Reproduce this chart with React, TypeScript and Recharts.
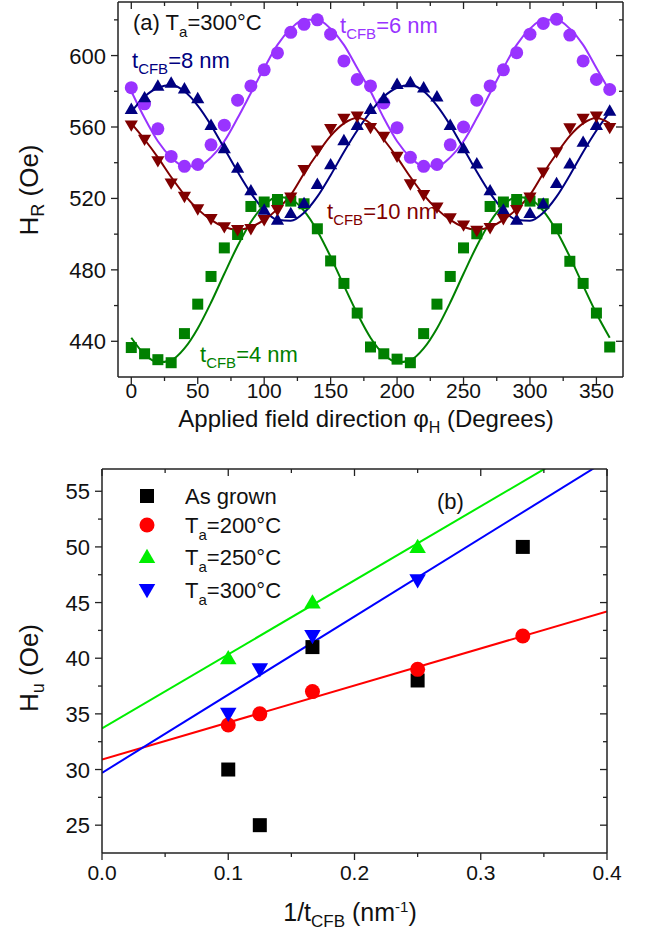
import React from 'react';
import { ComposedChart, Line, XAxis, YAxis } from 'recharts';

// ---- panel (a): resonance field vs applied field direction, Ta = 300 C ----
const ANGLES = [
  0, 10, 20, 30, 40, 50, 60, 70, 80, 90, 100, 110, 120, 130, 140, 150, 160, 170, 180,
  190, 200, 210, 220, 230, 240, 250, 260, 270, 280, 290, 300, 310, 320, 330, 340, 350, 360,
];

const HR_4NM = [
  436.5, 433, 429.7, 428, 444.3, 460.8, 476.3, 492.3, 499.8, 515.5, 518, 519.4, 518.5, 517, 503, 485, 472.4, 455.8, 436.8,
  433, 430, 428, 444.3, 460.8, 476.3, 492.3, 500.2, 515.5, 518, 519.4, 518.5, 517, 503, 484.8, 472.4, 455.8, 436.8,
];
const HR_6NM = [
  582, 573, 559, 543.5, 538, 539, 550, 561, 575, 583, 592, 601.5, 613, 617.5, 620, 612, 597, 586.6, 583,
  573.5, 559.6, 543, 538, 539, 550, 560, 575, 583, 592, 601.6, 612, 618, 620.4, 611.5, 597, 586.6, 581,
];
const HR_8NM = [
  570, 576.5, 583, 584.7, 581.5, 576, 561, 548, 537, 524.4, 513.6, 508, 511.7, 517.3, 528, 539, 552.5, 561, 570,
  576, 584, 585, 582, 577, 561, 548, 539.5, 524.4, 513.6, 508, 511.7, 517, 528.5, 539.4, 551.6, 561, 569,
];
const HR_10NM = [
  561, 553, 541, 528.5, 521, 514, 508.6, 504, 502.4, 503, 508, 513.6, 520.7, 536, 547, 559, 564.7, 566, 559.6,
  554.7, 543.5, 528, 522, 515, 509, 505, 502, 503.5, 508.6, 513.6, 520.7, 534.7, 546, 559.4, 564.7, 566, 559.6,
];

// fitted curves, every 10 degrees
const FIT_4NM = [
  442, 432.7, 428.2, 429.4, 436, 447.2, 461.7, 477.8, 493.4, 506.8, 516.3, 520.8, 519.6, 513, 501.8, 487.3, 471.2, 455.6, 442,
  432.7, 428.2, 429.4, 436, 447.2, 461.7, 477.8, 493.4, 506.8, 516.3, 520.8, 519.6, 513, 501.8, 487.3, 471.2, 455.6, 442,
];
const FIT_6NM = [
  580, 565, 552, 543, 538, 538, 543, 552, 565, 579, 593, 606, 615, 620, 620, 615, 606, 593, 580,
  565, 552, 543, 538, 538, 543, 552, 565, 579, 593, 606, 615, 620, 620, 615, 606, 593, 580,
];
const FIT_8NM = [
  568.5, 577, 582, 583.5, 580, 572, 561, 548, 535, 523, 513.5, 508, 507.5, 512, 521, 533, 546, 558, 568.5,
  577, 582, 583.5, 580, 572, 561, 548, 535, 523, 513.5, 508, 507.5, 512, 521, 533, 546, 558, 568.5,
];
const FIT_10NM = [
  562, 553, 543, 532, 522, 514, 508, 504, 502.5, 504, 508, 514, 522, 534, 545, 555, 562, 565, 562,
  553, 543, 532, 522, 514, 508, 504, 502.5, 504, 508, 514, 522, 534, 545, 555, 562, 565, 562,
];

const TOP_X_TICKS = [0, 25, 50, 75, 100, 125, 150, 175, 200, 225, 250, 275, 300, 325, 350];
const TOP_X_MAJOR = [0, 50, 100, 150, 200, 250, 300, 350];
const TOP_Y_TICKS = [440, 460, 480, 500, 520, 540, 560, 580, 600, 620];
const TOP_Y_MAJOR = [440, 480, 520, 560, 600];

// ---- panel (b): Hu vs 1/t ----
const INV_T = [0, 0.1, 0.125, 0.1667, 0.25, 0.3333, 0.4];
const AS_GROWN = [null, 30, 25, 41, 38, 50, null];
const TA_200 = [null, 34, 35, 37, 39, 42, null];
const TA_250 = [null, 40, null, 45, 50, null, null];
const TA_300 = [null, 35, 39, 42, 47, null, null];
const FIT_200 = [30.9, null, null, null, null, null, 44.2];
const FIT_250 = [33.7, null, null, null, null, null, 60.3];
const FIT_300 = [29.7, null, null, null, null, null, 57.8];

const BOT_X_TICKS = [0, 0.05, 0.1, 0.15, 0.2, 0.25, 0.3, 0.35, 0.4];
const BOT_X_MAJOR = [0, 0.1, 0.2, 0.3, 0.4];
const BOT_Y_TICKS = [25, 27.5, 30, 32.5, 35, 37.5, 40, 42.5, 45, 47.5, 50, 52.5, 55];
const BOT_Y_MAJOR = [25, 30, 35, 40, 45, 50, 55];

const FONT = '"Liberation Sans", Arial, Helvetica, sans-serif';
const AXIS = { stroke: '#222', strokeWidth: 1.5 };

const C4 = '#008000';
const C6 = '#9933ff';
const C8 = '#000080';
const C10 = '#800000';

const topData = ANGLES.map((a, i) => ({
  angle: a,
  h4: HR_4NM[i],
  h6: HR_6NM[i],
  h8: HR_8NM[i],
  h10: HR_10NM[i],
  f4: FIT_4NM[i],
  f6: FIT_6NM[i],
  f8: FIT_8NM[i],
  f10: FIT_10NM[i],
}));

const botData = INV_T.map((x, i) => ({
  x,
  asg: AS_GROWN[i],
  t200: TA_200[i],
  t250: TA_250[i],
  t300: TA_300[i],
  f200: FIT_200[i],
  f250: FIT_250[i],
  f300: FIT_300[i],
}));

type Shape = 'square' | 'circle' | 'up' | 'down';

function Marker({ cx, cy, shape, size, color }: { cx: number; cy: number; shape: Shape; size: number; color: string }) {
  const h = size / 2;
  if (shape === 'square') return <rect x={cx - h} y={cy - h} width={size} height={size} fill={color} />;
  if (shape === 'circle') return <circle cx={cx} cy={cy} r={h} fill={color} />;
  if (shape === 'up')
    return <polygon points={`${cx},${cy - h * 1.1} ${cx + h * 1.1},${cy + h * 0.8} ${cx - h * 1.1},${cy + h * 0.8}`} fill={color} />;
  return <polygon points={`${cx},${cy + h * 1.1} ${cx + h * 1.1},${cy - h * 0.8} ${cx - h * 1.1},${cy - h * 0.8}`} fill={color} />;
}

const dotFn = (shape: Shape, size: number, color: string) => (p: any) => {
  if (p.cx == null || p.cy == null || p.value == null || !isFinite(p.cy)) return <g key={`e-${p.index}`} />;
  return (
    <g key={`d-${p.index}`}>
      <Marker cx={p.cx} cy={p.cy} shape={shape} size={size} color={color} />
    </g>
  );
};

type Side = 'bottom' | 'top' | 'left' | 'right';

function axisTick(side: Side, majors: number[], fmt: ((v: number) => string) | null, gap: number) {
  return (props: any) => {
    const { x, y, payload } = props;
    const v = Number(payload.value);
    const major = majors.some((m) => Math.abs(m - v) < 1e-6);
    const len = major ? 7 : 4;
    let line;
    if (side === 'bottom' || side === 'top') line = <line x1={x} y1={y} x2={x} y2={y + len} stroke="#222" strokeWidth={1.3} />;
    else line = <line x1={x} y1={y} x2={x - len} y2={y} stroke="#222" strokeWidth={1.3} />;
    let label = null;
    if (fmt && major) {
      if (side === 'bottom')
        label = (
          <text x={x} y={y + gap} textAnchor="middle" fontSize={21} fontFamily={FONT} fill="#111">
            {fmt(v)}
          </text>
        );
      if (side === 'left')
        label = (
          <text x={x - gap} y={y + 8} textAnchor="end" fontSize={22} fontFamily={FONT} fill="#111">
            {fmt(v)}
          </text>
        );
    }
    return (
      <g>
        {line}
        {label}
      </g>
    );
  };
}

function TopPanel() {
  return (
    <ComposedChart width={647} height={430} data={topData} margin={{ top: 0, right: 0, bottom: 0, left: 0 }}>
      <XAxis
        dataKey="angle"
        type="number"
        domain={[-10, 370]}
        allowDataOverflow
        ticks={TOP_X_TICKS}
        interval={0}
        height={53}
        tickSize={0}
        tickMargin={0}
        tickLine={false}
        axisLine={AXIS}
        tick={axisTick('bottom', TOP_X_MAJOR, (v) => String(v), 21)}
      />
      <XAxis
        xAxisId="top"
        dataKey="angle"
        orientation="top"
        type="number"
        domain={[-10, 370]}
        allowDataOverflow
        ticks={TOP_X_TICKS}
        interval={0}
        height={2}
        tickSize={0}
        tickMargin={0}
        tickLine={false}
        axisLine={AXIS}
        tick={axisTick('top', TOP_X_MAJOR, null, 0)}
      />
      <YAxis
        type="number"
        domain={[420, 630]}
        allowDataOverflow
        ticks={TOP_Y_TICKS}
        interval={0}
        width={118}
        tickSize={0}
        tickMargin={0}
        tickLine={false}
        axisLine={AXIS}
        tick={axisTick('left', TOP_Y_MAJOR, (v) => String(v), 12)}
      />
      <YAxis
        yAxisId="right"
        orientation="right"
        type="number"
        domain={[420, 630]}
        allowDataOverflow
        ticks={TOP_Y_TICKS}
        interval={0}
        width={24}
        tickSize={0}
        tickMargin={0}
        tickLine={false}
        axisLine={AXIS}
        tick={axisTick('right', TOP_Y_MAJOR, null, 0)}
      />
      {/* invisible series that binds the mirrored frame axes */}
      <Line xAxisId="top" yAxisId="right" dataKey="f6" stroke="none" dot={false} activeDot={false} isAnimationActive={false} />
      <Line dataKey="f4" type="monotone" stroke={C4} strokeWidth={2} dot={false} activeDot={false} isAnimationActive={false} />
      <Line dataKey="f6" type="monotone" stroke={C6} strokeWidth={2} dot={false} activeDot={false} isAnimationActive={false} />
      <Line dataKey="f8" type="monotone" stroke={C8} strokeWidth={2} dot={false} activeDot={false} isAnimationActive={false} />
      <Line dataKey="f10" type="monotone" stroke={C10} strokeWidth={2} dot={false} activeDot={false} isAnimationActive={false} />
      <Line dataKey="h4" stroke="none" dot={dotFn('square', 11, C4)} activeDot={false} isAnimationActive={false} />
      <Line dataKey="h6" stroke="none" dot={dotFn('circle', 13, C6)} activeDot={false} isAnimationActive={false} />
      <Line dataKey="h8" stroke="none" dot={dotFn('up', 12, C8)} activeDot={false} isAnimationActive={false} />
      <Line dataKey="h10" stroke="none" dot={dotFn('down', 12, C10)} activeDot={false} isAnimationActive={false} />
    </ComposedChart>
  );
}

function BottomPanel() {
  return (
    <ComposedChart width={647} height={503} data={botData} margin={{ top: 0, right: 0, bottom: 0, left: 0 }}>
      <XAxis
        dataKey="x"
        type="number"
        domain={[0, 0.4]}
        allowDataOverflow
        ticks={BOT_X_TICKS}
        interval={0}
        height={90}
        tickSize={0}
        tickMargin={0}
        tickLine={false}
        axisLine={AXIS}
        tick={axisTick('bottom', BOT_X_MAJOR, (v) => v.toFixed(1), 27)}
      />
      <XAxis
        xAxisId="top"
        dataKey="x"
        orientation="top"
        type="number"
        domain={[0, 0.4]}
        allowDataOverflow
        ticks={BOT_X_TICKS}
        interval={0}
        height={29}
        tickSize={0}
        tickMargin={0}
        tickLine={false}
        axisLine={AXIS}
        tick={axisTick('top', BOT_X_MAJOR, null, 0)}
      />
      <YAxis
        type="number"
        domain={[22.5, 57]}
        allowDataOverflow
        ticks={BOT_Y_TICKS}
        interval={0}
        width={102}
        tickSize={0}
        tickMargin={0}
        tickLine={false}
        axisLine={AXIS}
        tick={axisTick('left', BOT_Y_MAJOR, (v) => String(v), 12)}
      />
      <YAxis
        yAxisId="right"
        orientation="right"
        type="number"
        domain={[22.5, 57]}
        allowDataOverflow
        ticks={BOT_Y_TICKS}
        interval={0}
        width={40}
        tickSize={0}
        tickMargin={0}
        tickLine={false}
        axisLine={AXIS}
        tick={axisTick('right', BOT_Y_MAJOR, null, 0)}
      />
      {/* invisible series that binds the mirrored frame axes */}
      <Line xAxisId="top" yAxisId="right" dataKey="f200" connectNulls stroke="none" dot={false} activeDot={false} isAnimationActive={false} />
      <Line dataKey="f200" type="linear" connectNulls stroke="#ff0000" strokeWidth={2} dot={false} activeDot={false} isAnimationActive={false} />
      <Line dataKey="f250" type="linear" connectNulls stroke="#00ee00" strokeWidth={2} dot={false} activeDot={false} isAnimationActive={false} />
      <Line dataKey="f300" type="linear" connectNulls stroke="#0000ff" strokeWidth={2} dot={false} activeDot={false} isAnimationActive={false} />
      <Line dataKey="asg" stroke="none" dot={dotFn('square', 14, '#000000')} activeDot={false} isAnimationActive={false} />
      <Line dataKey="t200" stroke="none" dot={dotFn('circle', 15, '#ff0000')} activeDot={false} isAnimationActive={false} />
      <Line dataKey="t250" stroke="none" dot={dotFn('up', 15, '#00ee00')} activeDot={false} isAnimationActive={false} />
      <Line dataKey="t300" stroke="none" dot={dotFn('down', 15, '#0000ff')} activeDot={false} isAnimationActive={false} />
    </ComposedChart>
  );
}

function Sub({ children, size = 15, dy = 6 }: { children: React.ReactNode; size?: number; dy?: number }) {
  return (
    <tspan fontSize={size} dy={dy}>
      {children}
    </tspan>
  );
}

function Overlay() {
  const t = { fontFamily: FONT, fontSize: 22 } as const;
  return (
    <svg width={647} height={943} style={{ position: 'absolute', left: 0, top: 0, pointerEvents: 'none' }}>
      {/* panel (a) annotations */}
      <text x={133} y={30} fill="#111" {...t}>
        (a) T<Sub dy={7}>a</Sub>
        <tspan dy={-7}>=300°C</tspan>
      </text>
      <text x={132} y={68} fill={C8} {...t}>
        t<Sub>CFB</Sub>
        <tspan dy={-6}>=8 nm</tspan>
      </text>
      <text x={340} y={33} fill={C6} {...t}>
        t<Sub>CFB</Sub>
        <tspan dy={-6}>=6 nm</tspan>
      </text>
      <text x={327} y={219} fill={C10} {...t}>
        t<Sub>CFB</Sub>
        <tspan dy={-6}>=10 nm</tspan>
      </text>
      <text x={200} y={362} fill={C4} {...t}>
        t<Sub>CFB</Sub>
        <tspan dy={-6}>=4 nm</tspan>
      </text>
      <text x={366} y={427} textAnchor="middle" fill="#111" fontFamily={FONT} fontSize={24}>
        Applied field direction φ<Sub size={16}>H</Sub>
        <tspan dy={-6}> (Degrees)</tspan>
      </text>
      <text transform="translate(38,190) rotate(-90)" textAnchor="middle" fill="#111" fontFamily={FONT} fontSize={26}>
        H<Sub size={18}>R</Sub>
        <tspan dy={-6}> (Oe)</tspan>
      </text>

      {/* panel (b) legend and labels */}
      <Marker cx={147} cy={496} shape="square" size={14} color="#000000" />
      <Marker cx={147} cy={525} shape="circle" size={15} color="#ff0000" />
      <Marker cx={147} cy={557} shape="up" size={15} color="#00ee00" />
      <Marker cx={147} cy={590} shape="down" size={15} color="#0000ff" />
      <text x={185} y={504} fill="#111" {...t}>
        As grown
      </text>
      <text x={185} y={533} fill="#111" {...t}>
        T<Sub dy={7}>a</Sub>
        <tspan dy={-7}>=200°C</tspan>
      </text>
      <text x={185} y={565} fill="#111" {...t}>
        T<Sub dy={7}>a</Sub>
        <tspan dy={-7}>=250°C</tspan>
      </text>
      <text x={185} y={598} fill="#111" {...t}>
        T<Sub dy={7}>a</Sub>
        <tspan dy={-7}>=300°C</tspan>
      </text>
      <text x={437} y={509} fill="#111" {...t}>
        (b)
      </text>
      <text x={350} y={921} textAnchor="middle" fill="#111" fontFamily={FONT} fontSize={25}>
        1/t<Sub size={17}>CFB</Sub>
        <tspan dy={-6}> (nm</tspan>
        <tspan fontSize={15} dy={-9}>-1</tspan>
        <tspan dy={9}>)</tspan>
      </text>
      <text transform="translate(38,668) rotate(-90)" textAnchor="middle" fill="#111" fontFamily={FONT} fontSize={26}>
        H<Sub size={18}>u</Sub>
        <tspan dy={-6}> (Oe)</tspan>
      </text>
    </svg>
  );
}

export default function App() {
  return (
    <div style={{ position: 'absolute', left: 0, top: 0, width: 647, height: 943, background: '#fff', fontFamily: FONT }}>
      <div style={{ position: 'absolute', left: 0, top: 0 }}>
        <TopPanel />
      </div>
      <div style={{ position: 'absolute', left: 0, top: 440 }}>
        <BottomPanel />
      </div>
      <Overlay />
    </div>
  );
}
